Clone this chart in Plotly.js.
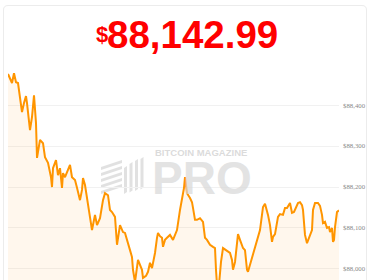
<!DOCTYPE html>
<html>
<head>
<meta charset="utf-8">
<script src="https://cdn.plot.ly/plotly-3.0.1.min.js"></script>
<style>
  html, body { margin: 0; padding: 0; background: #ffffff; }
  #chart { width: 370px; height: 280px; }
</style>
</head>
<body>
<div id="chart"></div>
<script>
// Data (minutes since start, BTC price in USD)
const minutes = [0,2,4,6,8,10,12,14,16,18,19,22,24,26,28,29,32,35,37,40,43,44,45,48,50,52,54,55,57,60,62,64,67,69,72,74,75,77,79,82,84,87,89,92,95,97,100,102,104,107,109,112,115,117,120,122,124,125,127,128,130,132,134,135,138,140,142,144,147,149,150,152,154,155,157,159,162,165,167,169,172,174,176,177,179,182,184,185,187,189,192,195,197,199,202,205,207,208,209,211,213,215,218,220,222,224,225,227,230,232,235,237,239,240,242,245,247,249,252,255,257,260,262,264,265,267,269,270,272,275,277,279,282,284,286,288,290,292,294,295,297,299,302,304,305,307,310,312,314,315,317,319,321,322,324,325,326,327,329,331];
const prices = [88476,88466,88454,88478,88456,88454,88424,88383,88405,88422,88405,88339,88371,88424,88356,88271,88315,88307,88273,88259,88224,88200,88246,88266,88229,88246,88198,88234,88224,88241,88254,88224,88217,88198,88168,88193,88222,88205,88176,88127,88095,88132,88107,88124,88168,88185,88180,88144,88139,88127,88059,88107,88090,88088,88066,88046,88029,87998,87968,87985,88022,88010,87998,87978,87983,87993,88015,88002,88039,88076,88088,88080,88076,88054,88071,88076,88083,88071,88083,88095,88144,88173,88198,88224,88185,88173,88163,88149,88120,88120,88124,88115,88076,88071,88059,88054,88051,87998,87961,87961,88017,88051,88046,88041,88039,88022,87998,88017,88085,88071,88051,88046,87998,87993,88010,88034,88051,88063,88095,88151,88159,88132,88107,88066,88078,88085,88115,88127,88134,88132,88149,88149,88161,88137,88139,88149,88161,88163,88156,88144,88083,88063,88083,88095,88144,88161,88161,88154,88132,88112,88115,88100,88102,88090,88100,88066,88071,88102,88139,88143];
const yTicks = [88000, 88100, 88200, 88300, 88400];
const yTickLabels = ["$88,000", "$88,100", "$88,200", "$88,300", "$88,400"];
const priceTitle = "88,142.99";
const currency = "$";
const brandSmall = "BITCOIN MAGAZINE";
const brandBig = "PRO";

// pixel -> paper helpers (plot area: x 8..339, y 65..280)
const L = 8, R = 339, T = 65, B = 280;
const px = x => (x - L) / (R - L);
const py = y => (B - y) / (B - T);

const trace = {
  x: minutes,
  y: prices,
  type: 'scatter',
  mode: 'lines',
  line: { color: '#ff9500', width: 2 },
  fill: 'tozeroy',
  fillcolor: 'rgba(255,150,20,0.08)',
  hoverinfo: 'skip'
};

// logo icon shapes (watermark)
const shapes = [];
const g = 'rgba(215,215,215,0.75)';
for (let i = 0; i < 5; i++) {
  const y0 = 164 + i * 6;
  shapes.push({
    type: 'path', xref: 'paper', yref: 'paper', layer: 'below',
    path: `M ${px(101)} ${py(y0 + 3)} L ${px(122)} ${py(y0 - 4)} L ${px(122)} ${py(y0 - 1)} L ${px(101)} ${py(y0 + 6)} Z`,
    fillcolor: g, line: { width: 0 }
  });
}
const barTops = [166, 162, 159, 157];
barTops.forEach((t, i) => {
  const x0 = 124 + i * 5.5;
  shapes.push({
    type: 'path', xref: 'paper', yref: 'paper', layer: 'below',
    path: `M ${px(x0)} ${py(t + 2)} L ${px(x0 + 3)} ${py(t)} L ${px(x0 + 3)} ${py(192 - i * 1.5)} L ${px(x0)} ${py(194 - i * 1.5)} Z`,
    fillcolor: g, line: { width: 0 }
  });
});
// card border
shapes.push({
  type: 'path', xref: 'paper', yref: 'paper', layer: 'below',
  path: `M ${px(3.5)} ${py(290)} L ${px(3.5)} ${py(10)} Q ${px(3.5)} ${py(5.5)} ${px(8)} ${py(5.5)} L ${px(362)} ${py(5.5)} Q ${px(366.5)} ${py(5.5)} ${px(366.5)} ${py(10)} L ${px(366.5)} ${py(290)}`,
  line: { color: '#ececec', width: 1 }
});

const layout = {
  width: 370, height: 280,
  margin: { l: L, r: 370 - R, t: T, b: 0, pad: 0 },
  paper_bgcolor: '#ffffff',
  plot_bgcolor: '#ffffff',
  showlegend: false,
  xaxis: {
    range: [0, 331], visible: false, fixedrange: true
  },
  yaxis: {
    range: [87973, 88498],
    side: 'right',
    tickmode: 'array',
    tickvals: yTicks,
    ticktext: yTickLabels,
    tickfont: { family: 'Liberation Serif, serif', size: 6.8, color: '#8a8a8a' },
    gridcolor: '#f1f1f1',
    gridwidth: 1,
    zeroline: false,
    showline: false,
    ticks: '',
    ticklabelstandoff: 3,
    fixedrange: true
  },
  shapes: shapes,
  annotations: [
    {
      xref: 'paper', yref: 'paper', x: px(104.5), y: py(49), xanchor: 'left', yanchor: 'bottom',
      text: priceTitle, showarrow: false,
      font: { family: 'Liberation Sans, Arial, sans-serif', size: 38.5, color: '#ff0000', weight: 'bold' },
      yshift: -9
    },
    {
      xref: 'paper', yref: 'paper', x: px(109.5), y: py(35), xanchor: 'right', yanchor: 'middle',
      text: currency, showarrow: false,
      font: { family: 'Liberation Sans, Arial, sans-serif', size: 22, color: '#ff0000', weight: 'bold' }
    },
    {
      xref: 'paper', yref: 'paper', x: px(153), y: py(152.5), xanchor: 'left', yanchor: 'middle',
      text: brandSmall, showarrow: false,
      font: { family: 'Liberation Sans, Arial, sans-serif', size: 9.5, color: 'rgba(210,210,210,0.8)', weight: 'bold' }
    },
    {
      xref: 'paper', yref: 'paper', x: px(150), y: py(178), xanchor: 'left', yanchor: 'middle',
      text: brandBig, showarrow: false,
      font: { family: 'Liberation Sans, Arial, sans-serif', size: 46, color: 'rgba(215,215,215,0.7)', weight: 'bold' }
    }
  ]
};

Plotly.newPlot('chart', [trace], layout, { staticPlot: true, displayModeBar: false });
</script>
</body>
</html>
